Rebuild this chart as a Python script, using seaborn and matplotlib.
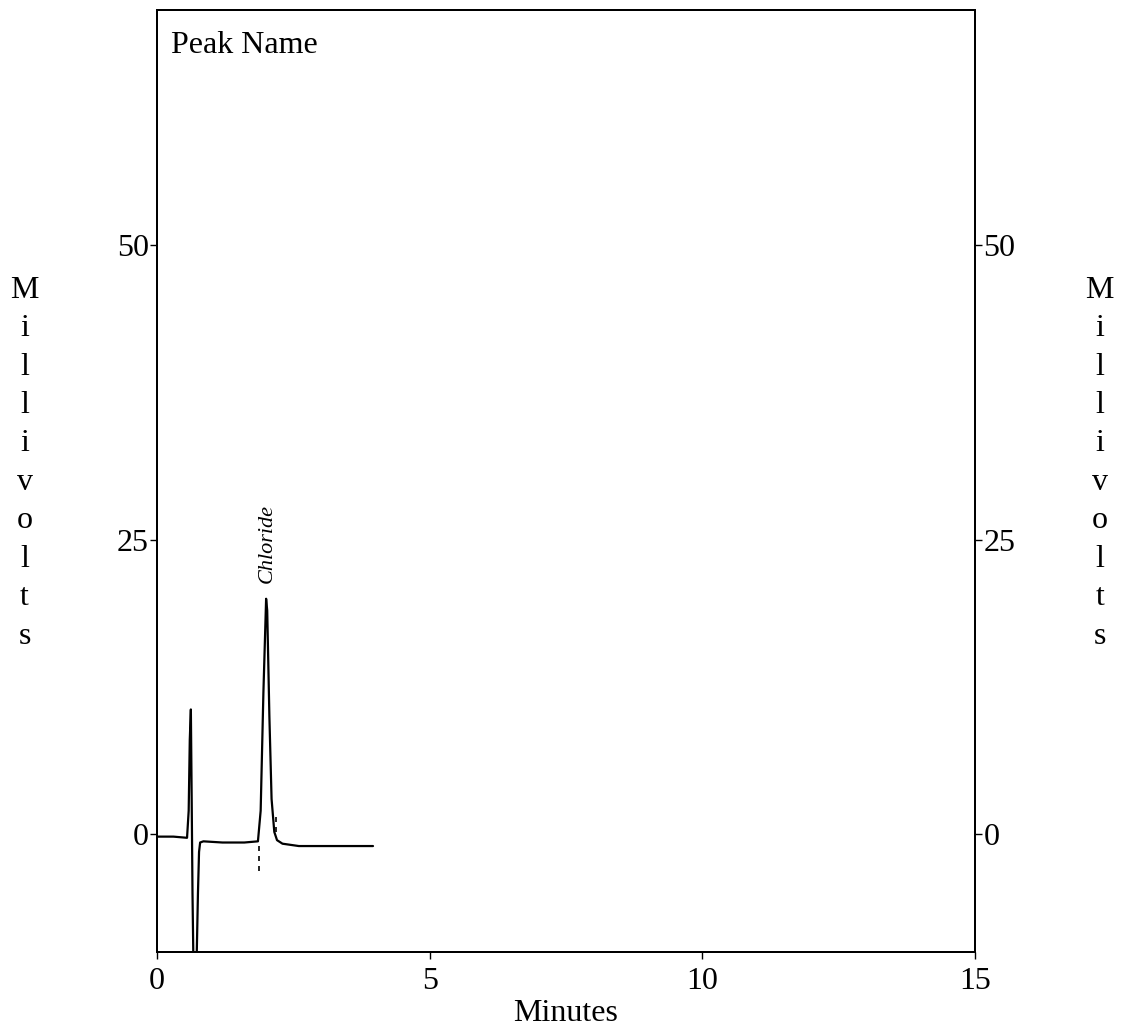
import matplotlib
matplotlib.use("Agg")
import matplotlib.pyplot as plt
import seaborn as sns
import pandas as pd

# ---- data ----
time_min = [0.00, 0.30, 0.55, 0.58, 0.60, 0.62, 0.635, 0.65, 0.67, 0.72, 0.75, 0.77, 0.79,
            0.85, 1.20, 1.60, 1.85, 1.90, 1.95, 2.00, 2.02, 2.06, 2.10, 2.15, 2.20,
            2.30, 2.60, 3.00, 3.96]
signal_mv = [-0.2, -0.2, -0.3, 2.0, 8.0, 10.6, 3.0, -5.0, -12.0, -12.0, -5.0, -1.5, -0.7,
             -0.6, -0.7, -0.7, -0.6, 2.0, 12.0, 20.0, 19.0, 10.0, 3.0, 0.2, -0.5,
             -0.8, -1.0, -1.0, -1.0]

# baseline start / end markers (dashed ticks)
marker_t = [1.87, 2.19]
marker_lo = [-3.1, 0.2]
marker_hi = [-0.8, 1.7]

peak_name = "Chloride"
peak_t = 2.02
peak_mv = 20.0

y_ticks = [0, 25, 50]
x_ticks = [0, 5, 10, 15]

df = pd.DataFrame({"Minutes": time_min, "mV": signal_mv})

sns.set_style("ticks")
plt.rcParams["font.family"] = ["Liberation Serif", "DejaVu Serif"]
plt.rcParams["text.color"] = "black"
plt.rcParams["axes.labelcolor"] = "black"
plt.rcParams["xtick.color"] = "black"
plt.rcParams["ytick.color"] = "black"

fig = plt.figure(figsize=(11.21, 10.27), dpi=100)
ax = fig.add_axes([0.1401, 0.0730, 0.7297, 0.9173])

sns.lineplot(data=df, x="Minutes", y="mV", ax=ax, color="black", linewidth=1.6,
             estimator=None, sort=False)
ax.vlines(marker_t, marker_lo, marker_hi, colors="black", linestyles=(0, (3, 3)), linewidth=1.2)

ax.text(peak_t, peak_mv + 1.3, peak_name, rotation=90, ha="center", va="bottom",
        fontsize=16, style="italic")
ax.text(0.017, 0.978, "Peak Name", transform=ax.transAxes, ha="left", va="top", fontsize=23)

ax.set_xlim(0, 15)
ax.set_ylim(-10, 70)
ax.set_xticks(x_ticks)
ax.set_yticks(y_ticks)
ax.tick_params(axis="both", direction="out", length=5, width=1, labelsize=23, pad=1)
ax.tick_params(axis="x", pad=6)
ax.set_xlabel("Minutes", fontsize=23, labelpad=2)
ax.set_ylabel("")

ax2 = ax.twinx()
ax2.set_ylim(-10, 70)
ax2.set_yticks(y_ticks)
ax2.tick_params(axis="y", direction="out", length=5, width=1, labelsize=23, pad=1)

for a in (ax, ax2):
    for s in a.spines.values():
        s.set_visible(True)
        s.set_linewidth(1.4)
        s.set_color("black")

label = "\n".join("Millivolts")
fig.text(0.022, 0.549, label, ha="center", va="center", fontsize=23, linespacing=1.43)
fig.text(0.981, 0.549, label, ha="center", va="center", fontsize=23, linespacing=1.43)

fig.savefig("out.png", dpi=100, facecolor="white")
